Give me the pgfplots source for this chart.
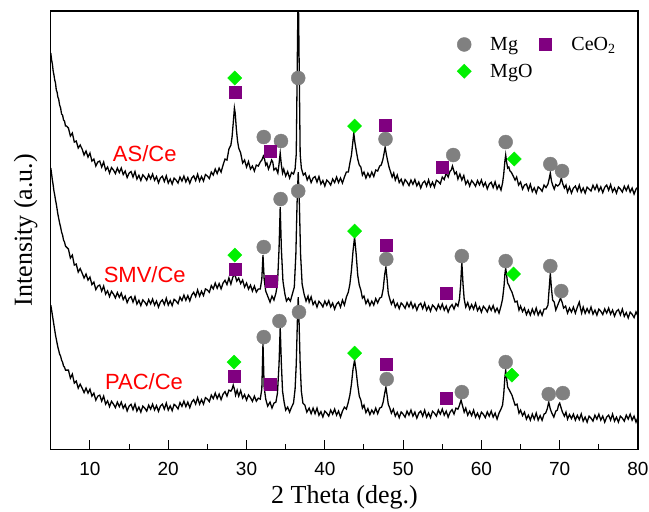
\documentclass[border=0pt]{standalone}
\usepackage{pgfplots}
\pgfplotsset{compat=1.18}
\usepackage{fontspec}
\setmainfont{Liberation Serif}
\newfontfamily\arialf{Liberation Sans}
\definecolor{mggray}{HTML}{808080}
\definecolor{ceo}{HTML}{800080}
\definecolor{mgo}{HTML}{00F000}

\begin{document}
\begin{tikzpicture}
\begin{axis}[
  scale only axis, width=587pt, height=438pt,
  xmin=5, xmax=80, ymin=0, ymax=438,
  xtick={10,20,...,80}, minor xtick={15,25,...,75},
  ytick=\empty,
  xtick pos=bottom, tick align=inside,
  major tick length=9pt, minor tick length=5pt,
  tick style={line width=1pt, black},
  axis line style={line width=1.2pt},
  xticklabel style={font=\fontsize{19}{22}\selectfont\arialf, yshift=-10pt},
  /pgf/number format/assume math mode=true,
  xlabel={2 Theta (deg.)}, ylabel={Intensity (a.u.)},
  label style={font=\fontsize{26}{30}\selectfont},
  xlabel style={at={(axis description cs:0.5,-0.11)}, anchor=center},
  ylabel style={at={(axis description cs:-0.043,0.5)}, anchor=center},
  legend columns=2, legend cell align=left,
  legend style={draw=none, fill=none, at={(rel axis cs:0.685,0.95)}, anchor=north west,
    font=\fontsize{20}{24}\selectfont,
    /tikz/every even column/.append style={column sep=3pt}, row sep=8pt},
  legend image code/.code={\draw[#1] plot coordinates {(8pt,0pt)}; \path[draw=none, fill=none] (0pt,0pt) -- (32pt,0pt);},
]
% AS/Ce
\addplot[black, line width=1.3pt, forget plot] coordinates {
(5.0,396) (5.1,389) (5.2,385) (5.3,378) (5.4,374) (5.5,369) (5.6,366) (5.7,359) (5.8,357) (5.9,352)
(6.0,350) (6.125,344) (6.25,341) (6.375,335) (6.5,334) (6.625,329) (6.75,328) (6.875,323) (7.0,323)
(7.25,321) (7.5,313) (7.75,316) (8.0,307) (8.25,308) (8.5,301) (8.75,304) (9.0,300) (9.25,294) (9.5,298)
(9.75,292) (10.0,296) (10.25,288) (10.5,290) (10.75,283) (11.0,287) (11.25,288) (11.5,282) (11.75,287)
(12.0,279) (12.25,282) (12.5,276) (12.75,281.5) (13.0,279) (13.25,275.5) (13.5,281) (13.75,276.5)
(14.0,281) (14.25,274.5) (14.5,278) (14.75,271.5) (15.0,276) (15.25,277.5) (15.5,272) (15.75,277.5)
(16.0,270) (16.25,273.8) (16.5,268.5) (16.75,274.2) (17.0,272) (17.25,268.8) (17.5,274.5) (17.75,270.2)
(18.0,275) (18.25,268.8) (18.5,272.5) (18.75,266.2) (19.0,271) (19.25,272.8) (19.5,267.5) (19.75,273.2)
(20.0,266) (20.25,270) (20.5,265) (20.75,271) (21.0,269) (21.25,266) (21.5,272) (21.75,268)
(22.0,273) (22.25,267.2) (22.5,271.5) (22.75,265.8) (23.0,271) (23.25,273.2) (23.5,268.5) (23.75,274.8)
(24.0,268) (24.25,272.5) (24.5,268) (24.75,274.5) (25.0,273) (25.25,270.5) (25.5,277) (25.75,274)
(26.0,280) (26.25,275.5) (26.5,281) (26.75,277) (27.0,284) (27.25,290) (27.5,289) (27.75,300)
(28.0,304) (28.15,312) (28.3,326) (28.45,341) (28.55,336) (28.7,320) (28.85,308) (29.0,301)
(29.25,296) (29.5,286) (29.75,289) (30.0,282) (30.25,287.5) (30.5,280) (30.75,283) (31.0,278)
(31.25,284) (31.5,283) (31.75,287) (31.95,289) (32.15,293) (32.3,290) (32.45,284) (32.6,286)
(32.8,280) (33.0,284) (33.2,289) (33.35,287) (33.5,279) (33.75,281) (34.0,276) (34.15,285)
(34.3,296) (34.45,284) (34.6,276) (34.75,280) (35.0,273) (35.25,277.5) (35.5,271) (35.75,276.5)
(36.0,275) (36.2,280) (36.35,295) (36.5,400) (36.6,470) (36.7,400) (36.85,295) (37.0,281)
(37.25,274) (37.5,276) (37.75,269) (38.0,273) (38.25,266.5) (38.5,271) (38.75,272.5) (39.0,267)
(39.25,272.5) (39.5,265) (39.75,268.5) (40.0,263) (40.25,269) (40.5,267) (40.75,264) (41.0,270)
(41.25,266.5) (41.5,272) (41.75,266.5) (42.0,271) (42.25,266) (42.5,272) (42.75,277) (43.0,277)
(43.2,286) (43.4,294) (43.55,305) (43.7,316) (43.85,306) (44.0,299) (44.2,290) (44.4,284)
(44.6,282) (44.8,274) (45.0,277) (45.25,271) (45.5,276) (45.75,272) (46.0,277) (46.25,272.5)
(46.5,279) (46.75,278) (47.0,283) (47.2,284) (47.4,289) (47.55,295) (47.7,302) (47.85,295)
(48.0,289) (48.2,282) (48.4,277) (48.6,272) (48.8,276) (49.0,269) (49.25,274) (49.5,266.5)
(49.75,269.8) (50.0,264) (50.25,269.5) (50.5,267) (50.75,263.5) (51.0,269) (51.25,264.8) (51.5,269.5)
(51.75,263.2) (52.0,267) (52.25,261) (52.5,266) (52.75,268) (53.0,263) (53.25,269.2) (53.5,262.5)
(53.75,266.8) (54.0,262) (54.25,268.8) (54.5,267.5) (54.75,265.2) (55.0,272) (55.25,269.5) (55.5,276)
(55.75,272) (56.0,278) (56.15,279) (56.3,283) (56.45,279) (56.6,275) (56.8,277) (57.0,270)
(57.25,275) (57.5,269) (57.75,273.5) (58.0,265) (58.25,268.5) (58.5,263) (58.75,268.5) (59.0,266)
(59.25,262.8) (59.5,268.5) (59.75,264.2) (60.0,269) (60.25,262.8) (60.5,266.5) (60.75,260.2) (61.0,265)
(61.25,266.8) (61.5,261.5) (61.75,267.2) (62.0,260) (62.25,264) (62.5,259) (62.7,266) (62.85,275)
(63.0,288) (63.1,294) (63.2,288) (63.35,281) (63.5,282) (63.65,278) (63.8,277) (64.0,274)
(64.3,269) (64.5,272) (64.75,264) (65.0,267) (65.25,260) (65.5,264) (65.75,265) (66.0,259)
(66.25,264.8) (66.5,257.5) (66.75,261.2) (67.0,256) (67.25,262.2) (67.5,260.5) (67.75,257.8) (68.0,264)
(68.25,261.5) (68.5,265) (68.65,270) (68.8,276) (68.95,268) (69.1,264) (69.3,260) (69.5,264.5)
(69.75,263) (70.0,265) (70.2,271) (70.4,265) (70.6,261) (70.8,264) (71.0,257) (71.25,262)
(71.5,256) (71.75,261) (72.0,263) (72.25,258) (72.5,264) (72.75,257) (73.0,261) (73.25,256)
(73.5,262) (73.75,260) (74.0,258) (74.25,263.8) (74.5,259.5) (74.75,264.2) (75.0,258) (75.25,262.2)
(75.5,256.5) (75.75,261.8) (76.0,264) (76.25,258.8) (76.5,264.5) (76.75,257.2) (77.0,261) (77.25,256)
(77.5,262) (77.75,260) (78.0,257) (78.25,262.8) (78.5,258.5) (78.75,263.2) (79.0,257) (79.25,261)
(79.5,255) (79.75,260) (80.0,262)
};
% SMV/Ce
\addplot[black, line width=1.3pt, forget plot] coordinates {
(5.0,281) (5.1,275) (5.2,269) (5.3,264) (5.4,258) (5.5,254) (5.6,249) (5.7,245) (5.8,240) (5.9,235)
(6.0,231) (6.125,226) (6.25,222) (6.375,217) (6.5,214) (6.625,209) (6.75,207) (6.875,203) (7.0,202)
(7.25,200) (7.5,191) (7.75,194) (8.0,184) (8.25,185) (8.5,177) (8.75,180.5) (9.0,176) (9.25,171)
(9.5,175) (9.75,169) (10.0,172) (10.25,164.5) (10.5,167) (10.75,159.5) (11.0,163) (11.25,164)
(11.5,158) (11.75,163) (12.0,155) (12.25,158.2) (12.5,152.5) (12.75,157.8) (13.0,155) (13.25,151.2)
(13.5,156.5) (13.75,151.8) (14.0,156) (14.25,149.5) (14.5,153) (14.75,146.5) (15.0,151) (15.25,152.5)
(15.5,147) (15.75,152.5) (16.0,145) (16.25,148.8) (16.5,143.5) (16.75,149.2) (17.0,147) (17.25,143.8)
(17.5,149.5) (17.75,145.2) (18.0,150) (18.25,144) (18.5,148) (18.75,142) (19.0,147) (19.25,149.2)
(19.5,144.5) (19.75,150.8) (20.0,144) (20.25,148.2) (20.5,143.5) (20.75,149.8) (21.0,148) (21.25,145.5)
(21.5,152) (21.75,148.5) (22.0,154) (22.25,148.8) (22.5,153.5) (22.75,148.2) (23.0,154) (23.25,156.8)
(23.5,152.5) (23.75,159.2) (24.0,153) (24.25,157.8) (24.5,153.5) (24.75,160.2) (25.0,159) (25.25,156.8)
(25.5,163.5) (25.75,160.2) (26.0,166) (26.25,160.8) (26.5,165.5) (26.75,160.2) (27.0,166) (27.25,168.8)
(27.5,164.5) (27.75,171.2) (28.0,165) (28.25,172) (28.5,175) (28.75,168) (29.0,171) (29.25,165.5)
(29.5,169) (29.75,162) (30.0,166) (30.25,160) (30.5,164) (30.75,158) (31.0,163) (31.25,157)
(31.5,160) (31.75,160) (31.95,170) (32.1,194) (32.25,170) (32.45,158) (32.7,153) (33.0,147)
(33.25,153) (33.5,149) (33.75,156) (33.95,165) (34.15,200) (34.3,242) (34.45,200) (34.65,168)
(34.9,155) (35.1,148) (35.35,151) (35.6,148) (35.85,155) (36.1,162) (36.3,195) (36.45,245)
(36.6,277) (36.75,245) (36.9,195) (37.1,165) (37.35,155) (37.6,148) (37.85,153) (38.0,147)
(38.25,152.2) (38.5,144.5) (38.75,147.8) (39.0,142) (39.25,147.8) (39.5,145.5) (39.75,142.2) (40.0,148)
(40.25,143.8) (40.5,148.5) (40.75,142.2) (41.0,146) (41.25,140) (41.5,145) (41.75,147) (42.0,142)
(42.25,149) (42.5,144) (42.75,152) (43.0,157) (43.2,165) (43.4,179) (43.6,198) (43.8,212)
(44.0,195) (44.2,174) (44.4,164) (44.6,159) (44.8,151) (45.0,153) (45.25,145.5) (45.5,149.5)
(45.75,143.5) (46.0,148) (46.25,144) (46.5,150.5) (46.75,146.2) (47.0,151) (47.25,152) (47.45,160)
(47.65,175) (47.8,182) (47.95,170) (48.1,156) (48.3,150) (48.5,145) (48.75,149) (49.0,142)
(49.25,145.8) (49.5,140.5) (49.75,146.2) (50.0,144) (50.25,140.8) (50.5,146.5) (50.75,142.2) (51.0,147)
(51.25,141) (51.5,145) (51.75,139) (52.0,144) (52.25,145.8) (52.5,140.5) (52.75,146.2) (53.0,139)
(53.25,143) (53.5,138) (53.75,144) (54.0,142) (54.25,138.8) (54.5,144.5) (54.75,140.2) (55.0,145)
(55.25,139) (55.5,143) (55.75,137) (56.0,142) (56.25,144.5) (56.5,140) (56.75,145.5) (57.0,143)
(57.2,150) (57.35,165) (57.5,187) (57.65,165) (57.8,150) (58.0,142) (58.25,146.5) (58.5,140)
(58.75,144.5) (59.0,140) (59.25,145.8) (59.5,138.5) (59.75,142.2) (60.0,137) (60.25,142.8) (60.5,140.5)
(60.75,137.2) (61.0,143) (61.25,138.8) (61.5,143.5) (61.75,137.2) (62.0,141) (62.25,136) (62.5,143)
(62.7,150) (62.9,164) (63.0,175) (63.1,181) (63.2,175) (63.35,166) (63.5,164) (63.7,160)
(63.9,157) (64.1,152) (64.3,147) (64.55,148) (64.8,139) (65.0,143) (65.25,137.5) (65.5,141)
(65.75,134.5) (66.0,139) (66.25,134) (66.5,140) (66.75,135) (67.0,141) (67.25,134) (67.5,138.5)
(67.75,133.8) (68.0,140) (68.25,140) (68.5,144) (68.65,160) (68.8,176) (68.95,160) (69.1,149)
(69.3,147) (69.5,139) (69.75,144) (69.95,148) (70.1,151) (70.3,147) (70.5,141) (70.75,143)
(71.0,136) (71.25,141) (71.5,137) (71.75,142) (72.0,136) (72.25,142) (72.5,147) (72.65,141)
(72.8,136) (73.0,142) (73.25,135.8) (73.5,140.5) (73.75,136.2) (74.0,142) (74.25,135) (74.5,139)
(74.75,134) (75.0,140) (75.25,137.8) (75.5,134.5) (75.75,140.2) (76.0,136) (76.25,141) (76.5,135)
(76.75,139) (77.0,133) (77.25,137.8) (77.5,139.5) (77.75,134.2) (78.0,140) (78.25,132.8) (78.5,136.5)
(78.75,131.2) (79.0,137) (79.25,134.8) (79.5,131.5) (79.75,137.2) (80.0,133)
};
% PAC/Ce
\addplot[black, line width=1.3pt, forget plot] coordinates {
(5.0,144) (5.1,139) (5.2,134) (5.3,129) (5.4,124) (5.5,119) (5.6,114) (5.7,110) (5.8,106) (5.9,102)
(6.0,99) (6.125,95) (6.25,93) (6.375,89) (6.5,87) (6.625,83) (6.75,82) (6.875,79) (7.0,79)
(7.25,79) (7.5,71) (7.75,75) (8.0,66) (8.25,68) (8.5,61) (8.75,65) (9.0,61) (9.25,56.5) (9.5,61)
(9.75,56) (10.0,60) (10.25,53) (10.5,56) (10.75,49) (11.0,53) (11.25,54) (11.5,48) (11.75,53)
(12.0,45) (12.25,48.2) (12.5,42.5) (12.75,47.8) (13.0,45) (13.25,41.5) (13.5,47) (13.75,42.5)
(14.0,47) (14.25,40.8) (14.5,44.5) (14.75,38.2) (15.0,43) (15.25,44.8) (15.5,39.5) (15.75,45.2)
(16.0,38) (16.25,42) (16.5,37) (16.75,43) (17.0,41) (17.25,38) (17.5,44) (17.75,40)
(18.0,45) (18.25,39.2) (18.5,43.5) (18.75,37.8) (19.0,43) (19.25,45) (19.5,40) (19.75,46)
(20.0,39) (20.25,43.2) (20.5,38.5) (20.75,44.8) (21.0,43) (21.25,40.2) (21.5,46.5) (21.75,42.8)
(22.0,48) (22.25,42.5) (22.5,47) (22.75,41.5) (23.0,47) (23.25,49.5) (23.5,45) (23.75,51.5)
(24.0,45) (24.25,49.5) (24.5,45) (24.75,51.5) (25.0,50) (25.25,47.5) (25.5,54) (25.75,50.5)
(26.0,56) (26.25,50.5) (26.5,55) (26.75,49.5) (27.0,55) (27.25,57.5) (27.5,53) (27.75,59)
(28.0,58) (28.15,60) (28.3,64) (28.45,60) (28.6,54) (28.8,59) (29.0,53) (29.25,58.5)
(29.5,51) (29.75,54.5) (30.0,49) (30.25,54.2) (30.5,51.5) (30.75,47.8) (31.0,53) (31.25,48)
(31.5,51) (31.75,50) (31.95,60) (32.1,106) (32.25,62) (32.45,50) (32.7,43) (33.0,47)
(33.25,41) (33.5,46) (33.75,47) (33.95,56) (34.15,85) (34.3,122) (34.45,85) (34.6,58)
(34.8,47) (35.0,39) (35.25,42) (35.5,37) (35.75,42) (36.0,46) (36.2,60) (36.35,85)
(36.5,130) (36.6,152) (36.7,130) (36.85,85) (37.0,58) (37.2,46) (37.45,44) (37.7,37)
(38.0,41) (38.25,35.5) (38.5,41) (38.75,35.5) (39.0,41) (39.25,33.8) (39.5,37.5) (39.75,32.2)
(40.0,38) (40.25,36) (40.5,33) (40.75,39) (41.0,35) (41.25,40) (41.5,34) (41.75,38)
(42.0,32) (42.25,38) (42.5,42) (42.75,40) (43.0,47) (43.2,54) (43.4,65) (43.6,80)
(43.8,89) (44.0,78) (44.2,64) (44.4,53) (44.6,49) (44.8,41) (45.0,44) (45.25,36.5)
(45.5,40.5) (45.75,34.5) (46.0,39) (46.25,35.5) (46.5,41) (46.75,35.5) (47.0,41) (47.25,42)
(47.45,47) (47.65,56) (47.8,62) (47.95,54) (48.1,45) (48.3,41) (48.5,36) (48.75,40)
(49.0,33) (49.25,36.8) (49.5,31.5) (49.75,37.2) (50.0,35) (50.25,32) (50.5,38) (50.75,34)
(51.0,39) (51.25,33) (51.5,37) (51.75,31) (52.0,36) (52.25,38) (52.5,33) (52.75,39)
(53.0,32) (53.25,36.2) (53.5,31.5) (53.75,37.8) (54.0,36) (54.25,33) (54.5,39) (54.75,35)
(55.0,40) (55.25,34) (55.5,38) (55.75,32) (56.0,37) (56.25,39.5) (56.5,35) (56.75,41)
(57.0,40) (57.2,44) (57.4,49) (57.6,43) (57.8,37) (58.0,41) (58.25,34) (58.5,38)
(58.75,33.5) (59.0,39) (59.25,32) (59.5,36) (59.75,31) (60.0,37) (60.25,34.8) (60.5,31.5)
(60.75,37.2) (61.0,33) (61.25,38) (61.5,32) (61.75,36) (62.0,30) (62.25,36) (62.5,40)
(62.7,44) (62.85,55) (63.0,72) (63.1,79) (63.2,72) (63.35,62) (63.5,60) (63.7,57)
(63.9,54) (64.1,49) (64.3,44) (64.55,45) (64.8,36) (65.0,39) (65.25,33.5) (65.5,37)
(65.75,30) (66.0,34) (66.25,29) (66.5,35) (66.75,30) (67.0,36) (67.25,29) (67.5,33.5)
(67.75,28.8) (68.0,35) (68.2,36) (68.4,40) (68.6,47) (68.8,40) (69.0,36) (69.25,32)
(69.5,38) (69.7,39) (69.85,44) (70.0,46) (70.15,42) (70.35,37) (70.6,33) (70.8,37)
(71.0,30) (71.25,34.5) (71.5,30.5) (71.75,35) (72.0,29) (72.25,33.8) (72.5,29.5) (72.75,35.2)
(73.0,28) (73.25,32) (73.5,27) (73.75,33) (74.0,31) (74.25,28) (74.5,34) (74.75,30)
(75.0,35) (75.25,29) (75.5,33) (75.75,27) (76.0,32) (76.25,34) (76.5,29) (76.75,35)
(77.0,28) (77.25,32) (77.5,27) (77.75,33) (78.0,31) (78.25,28) (78.5,34) (78.75,30)
(79.0,35) (79.25,29) (79.5,33) (79.75,27) (80.0,32)
};
% phase markers
\addplot[only marks, mark=*, mark size=7pt, color=mggray] coordinates {
(32.2,312) (34.4,308) (36.6,371) (47.75,310) (56.4,294) (63.1,307) (68.8,285) (70.3,278)
(32.2,202) (34.35,250) (36.6,258) (47.85,190) (57.5,193) (63.1,188) (68.8,183) (70.2,158)
(32.2,112) (34.2,128) (36.7,137) (47.9,70) (57.5,57) (63.1,87) (68.6,55) (70.4,56)
};
\addlegendentry{Mg}
\addplot[only marks, mark=square*, mark size=6pt, color=ceo] coordinates {
(28.5,357) (33.05,298) (47.75,324) (55.0,282)
(28.5,180) (33.2,168) (47.85,204) (55.5,156)
(28.4,73) (33.0,65) (47.9,85) (55.5,51)
};
\addlegendentry{CeO\textsubscript{2}}
\addplot[only marks, mark=square*, mark size=5pt, mark options={rotate=45}, color=mgo] coordinates {
(28.5,371) (43.8,323) (64.2,290)
(28.5,194) (43.8,218) (64.1,175)
(28.4,87) (43.8,96) (63.9,74)
};
\addlegendentry{MgO}
\node[text=red, font=\fontsize{22}{26}\selectfont\arialf] at (axis cs:17.0,295) {AS/Ce};
\node[text=red, font=\fontsize{22}{26}\selectfont\arialf] at (axis cs:17.0,174) {SMV/Ce};
\node[text=red, font=\fontsize{22}{26}\selectfont\arialf] at (axis cs:16.9,67) {PAC/Ce};
\end{axis}
\pgfresetboundingbox
\path ([xshift=-50.8pt,yshift=-62pt]current axis.south west) rectangle ([xshift=11pt,yshift=11pt]current axis.north east);
\end{tikzpicture}
\end{document}
